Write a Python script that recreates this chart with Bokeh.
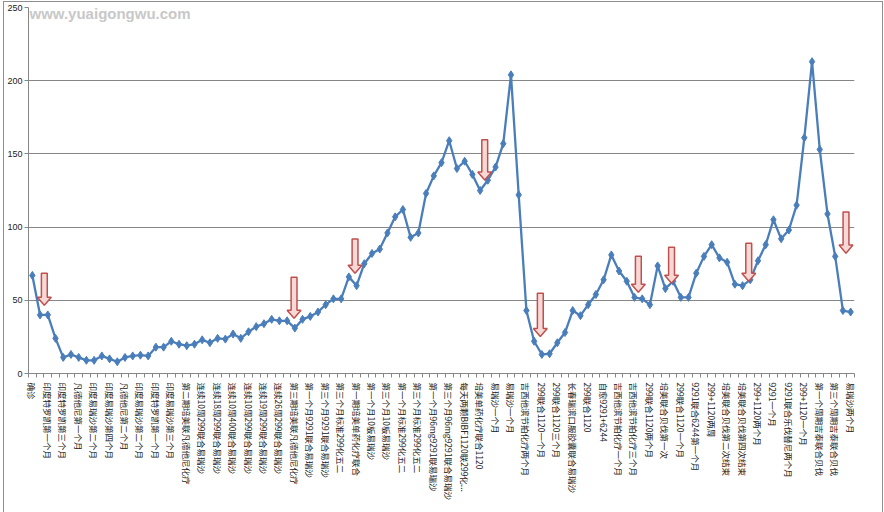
import math
from bokeh.plotting import figure
from bokeh.models import Range1d, FixedTicker, Label
from bokeh.embed import file_html
from bokeh.resources import INLINE

# ---- data ----
values = [67, 40, 40, 24, 11, 13, 11, 9, 9, 12, 10, 8, 11, 12, 12.5, 12, 18, 18, 22, 20,
          19, 20, 23, 21, 24, 23.5, 27, 24, 28.5, 32, 34, 37, 36, 36, 31, 37, 39, 42, 47, 51,
          51, 66, 60, 75, 82, 85, 96, 107, 112, 93, 96, 123, 135, 144, 159, 140, 145, 136, 125, 132,
          141, 157, 204, 122, 43, 22, 13, 13.5, 21, 28, 43, 39.5, 47, 54, 64, 81, 70, 63, 52, 51,
          47, 73.5, 58, 63, 52, 52, 68.5, 80, 88, 79, 76, 61, 60, 64, 77, 88, 105, 92, 98, 115,
          161, 213, 153, 109, 80, 43, 42]

tick_labels = [
    "确诊", "印度特罗凯第一个月", "印度特罗凯第三个月", "凡德他尼第一个月", "印度易瑞沙第二个月",
    "印度易瑞沙第四个月", "凡德他尼第二个月", "印度易瑞沙第二个月", "印度特罗凯第一个月", "印度易瑞沙第三个月",
    "第二期培美联凡德他尼化疗", "连续10周299联合易瑞沙", "连续18周299联合易瑞沙", "连续10周400联合易瑞沙",
    "连续10周299联合易瑞沙", "连续19周299联合易瑞沙", "连续26周299联合易瑞沙", "第三期培美联凡德他尼化疗",
    "第一个月9291联合易瑞沙", "第三个月9291联合易瑞沙", "第三个月标准299化五二", "第一期培美单药化疗联合",
    "第一个月10板易瑞沙", "第三个月10板易瑞沙", "第一个月标准299化五二", "第三个月标准299化五二",
    "第一个月96mg9291联易瑞沙", "第三个月96mg9291联合易瑞沙", "每天两颗BIBF1120联299化...",
    "培美单药化疗联合1120", "易瑞沙一个月", "易瑞沙一个月", "吉西他滨节拍化疗两个月", "299联合1120一个月",
    "299联合1120三个月", "长春瑞滨口服胶囊联合易瑞沙", "299联合1120", "自愈9291+6244",
    "吉西他滨节拍化疗一个月", "吉西他滨节拍化疗三个月", "299联合1120两个月", "培美联合贝伐第一次",
    "299联合1120一个月", "9291联合6244第一个月", "299+1120两周", "培美联合贝伐第二次结束",
    "培美联合贝伐第四次结束", "299+1120两个月", "9291一个月", "9291联合乐伐替尼两个月",
    "299+1120一个月", "第一个周期吉泰联合贝伐", "第三个周期吉泰联合贝伐", "易瑞沙两个月",
]

y_ticks = [0, 50, 100, 150, 200, 250]

# annotation arrows (category position, top value, tip value)
arrow_x = [1.55, 33.9, 41.8, 58.6, 65.8, 78.5, 82.8, 92.8, 105.4]
arrow_top = [68.5, 65.8, 91.8, 159.6, 54.8, 80.1, 86.3, 89.0, 110.3]
arrow_tip = [46.6, 37.7, 68.5, 132.2, 25.3, 55.5, 61.6, 63.0, 82.2]

# ---- figure ----
n = len(values)
xs = list(range(n))

p = figure(width=878, height=510, output_backend="svg", toolbar_location=None,
           x_range=Range1d(-0.5, n - 0.5), y_range=Range1d(0, 250),
           min_border_left=23, min_border_right=28, min_border_top=5, min_border_bottom=139)
p.outline_line_color = None
p.background_fill_color = "white"
p.border_fill_color = "white"
p.styles = {"margin-left": "4px", "margin-top": "2px", "outline": "1px solid #8e8e8e"}

grid_col = "#868686"
p.xgrid.grid_line_color = None
p.ygrid.grid_line_color = grid_col
p.ygrid.grid_line_width = 1

# y axis
p.yaxis.ticker = FixedTicker(ticks=y_ticks)
p.yaxis.axis_line_color = grid_col
p.yaxis.major_tick_line_color = grid_col
p.yaxis.major_tick_out = 4
p.yaxis.major_tick_in = 0
p.yaxis.minor_tick_line_color = None
p.yaxis.major_label_standoff = 2
p.yaxis.major_label_text_font = "Liberation Sans"
p.yaxis.major_label_text_font_size = "9px"
p.yaxis.major_label_text_color = "#222222"

# x axis
label_idx = list(range(0, n, 2))
p.xaxis.ticker = FixedTicker(ticks=label_idx, minor_ticks=[i - 0.5 for i in range(n + 1)])
p.xaxis.major_label_overrides = {i: t for i, t in zip(label_idx, tick_labels)}
p.xaxis.major_label_orientation = "vertical"
p.xaxis.axis_line_color = grid_col
p.xaxis.major_tick_line_color = None
p.xaxis.major_tick_out = 0
p.xaxis.major_tick_in = 0
p.xaxis.minor_tick_line_color = grid_col
p.xaxis.minor_tick_out = 4
p.xaxis.minor_tick_in = 0
p.xaxis.major_label_standoff = 5
p.xaxis.major_label_text_font = "Noto Sans CJK SC"
p.xaxis.major_label_text_font_size = "8.5px"
p.xaxis.major_label_text_color = "#222222"

# series
blue = "#4a7ebb"
p.line(xs, values, line_color=blue, line_width=2.3)
p.scatter(xs, values, marker="diamond", size=8, fill_color=blue, line_color=blue)

# arrows
sw, hw, hl = 0.38, 0.9, 5.5
axs, ays = [], []
for x, t, b in zip(arrow_x, arrow_top, arrow_tip):
    axs.append([x - sw, x + sw, x + sw, x + hw, x, x - hw, x - sw])
    ays.append([t, t, b + hl, b + hl, b, b + hl, b + hl])
p.patches(axs, ays, fill_color="#f6d8d6", line_color="#c0504d", line_width=1.5)

# watermark
p.add_layout(Label(x=-0.5, y=250, x_offset=1, y_offset=-6, text="www.yuaigongwu.com",
                   text_font="Liberation Sans", text_font_style="bold", text_font_size="15px",
                   text_color="#c8c8c8", text_baseline="alphabetic", text_align="left"))

open("out.html", "w").write(file_html(p, INLINE))
